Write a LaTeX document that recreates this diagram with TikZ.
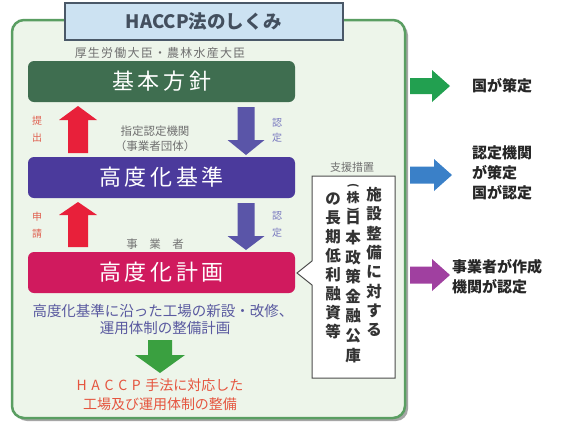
\documentclass[tikz,border=0pt]{standalone}
\usepackage{fontspec}
\setmainfont{Noto Sans CJK JP}
\definecolor{outerfill}{HTML}{EDF5EA}
\definecolor{outerline}{HTML}{5A9E62}
\definecolor{titlefill}{HTML}{CCE2F2}
\definecolor{titleline}{HTML}{4A5868}
\definecolor{kihon}{HTML}{3F6E50}
\definecolor{kijun}{HTML}{4B3A9C}
\definecolor{keikaku}{HTML}{D01A5E}
\definecolor{redarr}{HTML}{E8203A}
\definecolor{bluearr}{HTML}{5A55A8}
\definecolor{greenarr}{HTML}{3AA040}
\definecolor{rgreen}{HTML}{22A050}
\definecolor{rblue}{HTML}{3A80C8}
\definecolor{rpurple}{HTML}{A040A0}
\definecolor{graytxt}{HTML}{707070}
\definecolor{redtxt}{HTML}{E06050}
\definecolor{bluetxt}{HTML}{7A7AC0}
\definecolor{undertxt}{HTML}{5A5AA0}
\definecolor{bottomtxt}{HTML}{E5553F}
\newcommand\varrow[7]{%
  \fill[#7] ({#1-#6/2},#2) -- ({#1-#6/2},#3) -- ({#1-#5/2},#3) -- (#1,#4) -- ({#1+#5/2},#3) -- ({#1+#6/2},#3) -- ({#1+#6/2},#2) -- cycle;}
\newcommand\harrow[7]{%
  \fill[#7] (#2,{#1-#6/2}) -- (#3,{#1-#6/2}) -- (#3,{#1-#5/2}) -- (#4,#1) -- (#3,{#1+#5/2}) -- (#3,{#1+#6/2}) -- (#2,{#1+#6/2}) -- cycle;}
\begin{document}
\begin{tikzpicture}[x=1pt,y=-1pt,
  mainbox/.style={rounded corners=6pt, minimum width=267pt, minimum height=41pt, inner sep=0pt, text=white, font=\fontsize{22}{24}\selectfont},
  small/.style={font=\fontsize{11.5}{13}\selectfont, text=graytxt, inner sep=0pt},
  vt/.style={font=\fontsize{15.5}{16}\selectfont\bfseries, text=black!80, inner sep=0pt},
  rtxt/.style={font=\fontsize{15}{20}\selectfont\bfseries, text=black!85, align=left, anchor=west, inner sep=0pt}]
\useasboundingbox (0,0) rectangle (563,429);
\fill[white] (0,0) rectangle (563,429);
% outer box
\fill[black!35, rounded corners=12pt] (15,23) rectangle (408,421);
\draw[outerline, fill=outerfill, line width=2.5pt, rounded corners=12pt] (12,20) rectangle (405,418);
% title
\node[draw=titleline, fill=titlefill, line width=2.5pt, minimum width=278pt, minimum height=37pt, inner sep=0pt,
  font=\fontsize{18.5}{20}\selectfont\bfseries, text=titleline!90!black] (title) at (204,21.5) {HACCP法のしくみ};
% main boxes
\node[small, font=\fontsize{12}{13}\selectfont\addfontfeatures{LetterSpace=10}] (minister) at (160,53) {厚生労働大臣・農林水産大臣};
\node[mainbox, fill=kihon] (kihon) at (161.5,81.5) {基\,本\,方\,針};
\node[mainbox, fill=kijun] (kijun) at (161.5,177.5) {高\,度\,化\,基\,準};
\node[mainbox, fill=keikaku] (keikaku) at (161.5,272.5) {高\,度\,化\,計\,画};
% arrows between
\varrow{78}{153}{120}{106}{38}{20}{redarr}
\varrow{78}{247}{215}{202}{38}{20}{redarr}
\varrow{246}{107}{140}{155}{37}{17}{bluearr}
\varrow{246}{203}{236}{250}{37}{17}{bluearr}
\node[small, text=redtxt, align=center, font=\fontsize{10}{17}\selectfont] (teishutsu) at (37,129) {提\\出};
\node[small, text=redtxt, align=center, font=\fontsize{10}{17}\selectfont] (shinsei) at (37,225) {申\\請};
\node[small, text=bluetxt, align=center, font=\fontsize{10}{15}\selectfont] (nintei1) at (277,130) {認\\定};
\node[small, text=bluetxt, align=center, font=\fontsize{10}{17}\selectfont] (nintei2) at (277,224) {認\\定};
\node[small] (kikan) at (155,131) {指定認定機関};
\node[small] (dantai) at (155,146) {（事業者団体）};
\node[small, text=black!55] (jigyosha) at (155,244) {事\quad 業\quad 者};
% under text
\node[inner sep=0pt, text=undertxt, font=\fontsize{14.5}{15}\selectfont] (under1) at (163,311) {高度化基準に沿った工場の新設・改修、};
\node[inner sep=0pt, text=undertxt, font=\fontsize{14.5}{15}\selectfont] (under2) at (165,328) {運用体制の整備計画};
\varrow{160}{340}{355}{373}{50}{24}{greenarr}
\node[inner sep=0pt, text=bottomtxt, font=\fontsize{14}{15}\selectfont] (bottom1) at (160,385) {H\,\,A\,\,C\,\,C\,\,P\,\,手法に対応した};
\node[inner sep=0pt, text=bottomtxt, font=\fontsize{14}{15}\selectfont] (bottom2) at (160,404) {工場及び運用体制の整備};
% support box
\node[small, font=\fontsize{11}{13}\selectfont] (shien) at (352,167) {支援措置};
\draw[black!70, fill=white, line width=1pt] (312,176) -- (395,176) -- (395,378) -- (312,378) -- (312,285) -- (297,273) -- (312,261) -- cycle;
\foreach \c [count=\i from 0] in {施,設,整,備,に,対,す,る}
  \node[vt] (ca\i) at (374,{195+19.3*\i}) {\c};
\node[vt, rotate=-90, font=\fontsize{11}{11}\selectfont\bfseries] (cbo) at (353,186) {(};
\node[vt, font=\fontsize{13}{13}\selectfont\bfseries] (cbk) at (353,198) {株};
\node[vt, rotate=-90, font=\fontsize{11}{11}\selectfont\bfseries] (cbc) at (353,210) {)};
\foreach \c [count=\i from 0] in {日,本,政,策,金,融,公,庫}
  \node[vt] (cb\i) at (353,{218+19.6*\i}) {\c};
\foreach \c [count=\i from 0] in {の,長,期,低,利,融,資,等}
  \node[vt] (cc\i) at (333,{199+19*\i}) {\c};
% right side
\harrow{86}{410}{432}{450}{32}{16}{rgreen}
\harrow{175}{410}{434}{452}{32}{17}{rblue}
\harrow{275}{410}{432}{450}{32}{17}{rpurple}
\node[rtxt] (r1) at (472,86) {国が策定};
\node[rtxt] (r2) at (472,173) {認定機関\\が策定\\国が認定};
\node[rtxt] (r3) at (452,277) {事業者が作成\\機関が認定};
\end{tikzpicture}
\end{document}
